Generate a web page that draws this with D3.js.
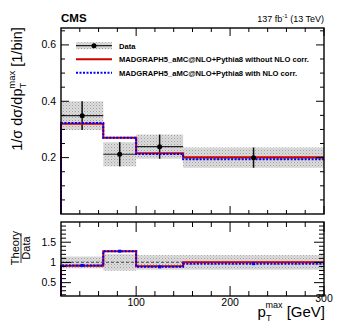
<!DOCTYPE html>
<html>
<head>
<meta charset="utf-8">
<script src="https://cdn.jsdelivr.net/npm/d3@7"></script>
<style>
  body { margin: 0; background: #fff; }
  svg { font-family: "Liberation Sans", Helvetica, Arial, sans-serif; }
</style>
</head>
<body>
<svg id="chart" width="341" height="330"></svg>
<script>
// bin edges in p_T^max [GeV]
const binEdges = [20, 65, 100, 150, 300];
// measured normalised cross section and its total uncertainty
const dataVals = [0.349, 0.212, 0.239, 0.200];
const dataUnc = [0.051, 0.043, 0.043, 0.036];
// predictions
const mcNoCorr = [0.320, 0.271, 0.216, 0.201];
const mcCorr = [0.323, 0.271, 0.213, 0.194];

const xTicks = [100, 200, 300];
const yTicks = [0.2, 0.4, 0.6];
const rTicks = [0.5, 1, 1.5];

const legendLabels = [
    'Data',
    'MADGRAPH5_aMC@NLO+Pythia8 without NLO corr.',
    'MADGRAPH5_aMC@NLO+Pythia8 with NLO corr.'
];

const RED = '#cc0000';
const BLUE = '#0000ff';

const L = 61, R = 324;
const top1 = 28, bot1 = 214;
const top2 = 222, bot2 = 296;

const svg = d3.select('#chart');

const x = d3.scaleLinear().domain([20, 300]).range([L, R]);
const y = d3.scaleLinear().domain([0, 0.66]).range([bot1, top1]);
const yr = d3.scaleLinear().domain([0.17, 2.0]).range([bot2, top2]);

const bins = dataVals.map((v, i) => ({
    lo: binEdges[i], hi: binEdges[i + 1], c: (binEdges[i] + binEdges[i + 1]) / 2,
    v: v, e: dataUnc[i], red: mcNoCorr[i], blue: mcCorr[i]
}));

// grey hatch pattern for uncertainty band
const defs = svg.append('defs');
const pat = defs.append('pattern')
    .attr('id', 'hatch')
    .attr('patternUnits', 'userSpaceOnUse')
    .attr('width', 3).attr('height', 3);
pat.append('rect').attr('width', 3).attr('height', 3).attr('fill', '#dcdcdc');
pat.append('rect').attr('width', 1).attr('height', 1).attr('fill', '#a0a0a0');
pat.append('rect').attr('x', 1.5).attr('y', 1.5).attr('width', 1).attr('height', 1).attr('fill', '#b8b8b8');

// step path helper
const stepLine = (vals, yScale, y0) => {
    let p = `M${x(binEdges[0])},${yScale(y0)}`;
    vals.forEach((v, i) => {
        p += `L${x(binEdges[i])},${yScale(v)}L${x(binEdges[i + 1])},${yScale(v)}`;
    });
    return p;
};

// ---------- top panel ----------
const g1 = svg.append('g');

g1.selectAll('rect.band')
    .data(bins)
    .enter()
    .append('rect')
    .attr('x', d => x(d.lo))
    .attr('width', d => x(d.hi) - x(d.lo))
    .attr('y', d => y(d.v + d.e))
    .attr('height', d => y(d.v - d.e) - y(d.v + d.e))
    .attr('fill', 'url(#hatch)');

g1.selectAll('line.xerr')
    .data(bins)
    .enter()
    .append('line')
    .attr('x1', d => x(d.lo)).attr('x2', d => x(d.hi))
    .attr('y1', d => y(d.v)).attr('y2', d => y(d.v))
    .attr('stroke', '#222').attr('stroke-width', 1.2);

g1.selectAll('line.yerr')
    .data(bins)
    .enter()
    .append('line')
    .attr('x1', d => x(d.c)).attr('x2', d => x(d.c))
    .attr('y1', d => y(d.v - d.e)).attr('y2', d => y(d.v + d.e))
    .attr('stroke', '#111').attr('stroke-width', 1.5);

g1.append('path')
    .attr('d', stepLine(mcNoCorr, y, 0))
    .attr('fill', 'none').attr('stroke', RED).attr('stroke-width', 2);

g1.append('path')
    .attr('d', stepLine(mcCorr, y, 0))
    .attr('fill', 'none').attr('stroke', BLUE).attr('stroke-width', 2)
    .attr('stroke-dasharray', '2,1.5');

g1.selectAll('circle.pt')
    .data(bins)
    .enter()
    .append('circle')
    .attr('cx', d => x(d.c)).attr('cy', d => y(d.v)).attr('r', 2.5)
    .attr('fill', '#000');

// ---------- ratio panel ----------
const g2 = svg.append('g');

g2.selectAll('rect.band')
    .data(bins)
    .enter()
    .append('rect')
    .attr('x', d => x(d.lo))
    .attr('width', d => x(d.hi) - x(d.lo))
    .attr('y', d => yr(1 + d.e / d.v))
    .attr('height', d => yr(1 - d.e / d.v) - yr(1 + d.e / d.v))
    .attr('fill', 'url(#hatch)');

g2.append('line')
    .attr('x1', L).attr('x2', R)
    .attr('y1', yr(1)).attr('y2', yr(1))
    .attr('stroke', '#666').attr('stroke-width', 1.2)
    .attr('stroke-dasharray', '3,2');

const ratioRed = bins.map(d => d.red / d.v);
const ratioBlue = bins.map(d => d.blue / d.v);

g2.append('path')
    .attr('d', stepLine(ratioRed, yr, 0.17))
    .attr('fill', 'none').attr('stroke', RED).attr('stroke-width', 2);

g2.append('path')
    .attr('d', stepLine(ratioBlue, yr, 0.17))
    .attr('fill', 'none').attr('stroke', BLUE).attr('stroke-width', 2)
    .attr('stroke-dasharray', '2,1.5');

g2.selectAll('rect.mk')
    .data(bins)
    .enter()
    .append('rect')
    .attr('x', d => x(d.c) - 1.5).attr('y', d => yr(d.blue / d.v) - 1.5)
    .attr('width', 3).attr('height', 3)
    .attr('fill', BLUE);

// ---------- frames and ticks ----------
const drawTicks = (g, yScale, yMinor, yMajor, top, bot, lenMaj, lenMin) => {
    const xMinor = d3.range(40, 300, 20).filter(v => v % 100 !== 0);
    xMinor.forEach(v => {
        g.append('line').attr('x1', x(v)).attr('x2', x(v)).attr('y1', bot).attr('y2', bot - lenMin).attr('stroke', '#000');
        g.append('line').attr('x1', x(v)).attr('x2', x(v)).attr('y1', top).attr('y2', top + lenMin).attr('stroke', '#000');
    });
    xTicks.forEach(v => {
        g.append('line').attr('x1', x(v)).attr('x2', x(v)).attr('y1', bot).attr('y2', bot - lenMaj).attr('stroke', '#000');
        g.append('line').attr('x1', x(v)).attr('x2', x(v)).attr('y1', top).attr('y2', top + lenMaj).attr('stroke', '#000');
    });
    yMinor.forEach(v => {
        g.append('line').attr('x1', L).attr('x2', L + lenMin).attr('y1', yScale(v)).attr('y2', yScale(v)).attr('stroke', '#000');
        g.append('line').attr('x1', R).attr('x2', R - lenMin).attr('y1', yScale(v)).attr('y2', yScale(v)).attr('stroke', '#000');
    });
    yMajor.forEach(v => {
        g.append('line').attr('x1', L).attr('x2', L + lenMaj).attr('y1', yScale(v)).attr('y2', yScale(v)).attr('stroke', '#000');
        g.append('line').attr('x1', R).attr('x2', R - lenMaj).attr('y1', yScale(v)).attr('y2', yScale(v)).attr('stroke', '#000');
    });
    g.append('rect')
        .attr('x', L).attr('y', top).attr('width', R - L).attr('height', bot - top)
        .attr('fill', 'none').attr('stroke', '#000').attr('stroke-width', 1.4);
};

drawTicks(svg.append('g'), y,
    d3.range(0.05, 0.66, 0.05).filter(v => Math.abs(v * 5 - Math.round(v * 5)) > 1e-6),
    yTicks, top1, bot1, 8, 4);
drawTicks(svg.append('g'), yr,
    d3.range(0.2, 2.0, 0.1).filter(v => Math.abs(v * 2 - Math.round(v * 2)) > 1e-6),
    rTicks, top2, bot2, 10, 5);

// tick labels
svg.selectAll('text.ylab')
    .data(yTicks)
    .enter()
    .append('text')
    .attr('x', L - 5).attr('y', d => y(d) + 3.5)
    .attr('text-anchor', 'end').attr('font-size', 10.5)
    .text(d => d3.format('.1f')(d));

svg.selectAll('text.rlab')
    .data(rTicks)
    .enter()
    .append('text')
    .attr('x', L - 5).attr('y', d => yr(d) + 3.5)
    .attr('text-anchor', 'end').attr('font-size', 10.5)
    .text(d => d);

svg.selectAll('text.xlab')
    .data(xTicks)
    .enter()
    .append('text')
    .attr('x', d => x(d)).attr('y', d => d === 300 ? 302 : 306)
    .attr('text-anchor', 'middle').attr('font-size', 10.5)
    .text(d => d);

// ---------- titles ----------
svg.append('text')
    .attr('x', L).attr('y', 22)
    .attr('font-size', 11.5).attr('font-weight', 'bold')
    .text('CMS');

const lumi = svg.append('text')
    .attr('x', R).attr('y', 22)
    .attr('text-anchor', 'end').attr('font-size', 9);
lumi.append('tspan').text('137 fb');
lumi.append('tspan').attr('dy', -4).attr('font-size', 6).text('-1');
lumi.append('tspan').attr('dy', 4).text(' (13 TeV)');

// y axis title
const yt = svg.append('text')
    .attr('transform', 'translate(22,89) rotate(-90)')
    .attr('text-anchor', 'middle').attr('font-size', 14.5);
yt.append('tspan').text('1/σ dσ/dp');
yt.append('tspan').attr('dy', 4).attr('font-size', 9.5).text('T');
yt.append('tspan').attr('dx', -6).attr('dy', -11).attr('font-size', 9.5).text('max');
yt.append('tspan').attr('dy', 7).text(' [1/bin]');

// ratio title
const rt = svg.append('g').attr('transform', 'translate(21,248) rotate(-90)');
rt.append('text').attr('x', 0).attr('y', -2).attr('text-anchor', 'middle').attr('font-size', 11).text('Theory');
rt.append('line').attr('x1', -15).attr('x2', 15).attr('y1', 0).attr('y2', 0).attr('stroke', '#000').attr('stroke-width', 0.8);
rt.append('text').attr('x', 0).attr('y', 9).attr('text-anchor', 'middle').attr('font-size', 11).text('Data');

// x axis title
const xt = svg.append('text')
    .attr('x', R + 1).attr('y', 317)
    .attr('text-anchor', 'end').attr('font-size', 15);
xt.append('tspan').text('p');
xt.append('tspan').attr('dy', 4).attr('font-size', 9).text('T');
xt.append('tspan').attr('dx', -6).attr('dy', -13).attr('font-size', 9).text('max');
xt.append('tspan').attr('dy', 9).text(' [GeV]');

// ---------- legend ----------
const legY = [45.7, 59.3, 72.7];
const lx0 = 76, lx1 = 112;
const leg = svg.append('g');

leg.append('rect')
    .attr('x', lx0).attr('y', legY[0] - 3.5).attr('width', lx1 - lx0).attr('height', 7)
    .attr('fill', 'url(#hatch)');
leg.append('line')
    .attr('x1', lx0).attr('x2', lx1).attr('y1', legY[0]).attr('y2', legY[0])
    .attr('stroke', '#222').attr('stroke-width', 1.2);
leg.append('circle')
    .attr('cx', (lx0 + lx1) / 2).attr('cy', legY[0]).attr('r', 2.5).attr('fill', '#000');
leg.append('line')
    .attr('x1', lx0).attr('x2', lx1).attr('y1', legY[1]).attr('y2', legY[1])
    .attr('stroke', RED).attr('stroke-width', 2);
leg.append('line')
    .attr('x1', lx0).attr('x2', lx1).attr('y1', legY[2]).attr('y2', legY[2])
    .attr('stroke', BLUE).attr('stroke-width', 2).attr('stroke-dasharray', '2,1.5');

leg.selectAll('text')
    .data(legendLabels)
    .enter()
    .append('text')
    .attr('x', 119).attr('y', (d, i) => legY[i] + 3)
    .attr('font-size', 7.6).attr('font-weight', 'bold')
    .text(d => d);
</script>
</body>
</html>
